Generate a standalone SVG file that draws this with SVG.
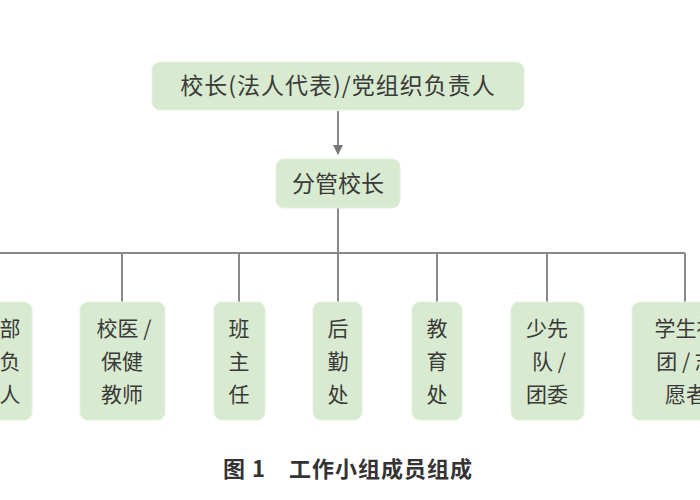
<svg xmlns="http://www.w3.org/2000/svg" width="700" height="500" viewBox="0 0 700 500">
<style>
.b{fill:#d8eacf;stroke:#e4f0de;stroke-width:1}
.t{font-family:"Noto Sans CJK SC","Liberation Serif",serif;font-size:21px;fill:#3a3a3a;text-anchor:middle}
.c{fill:none;stroke:#8a8a8a;stroke-width:2}
</style>
<defs><marker id="a" viewBox="0 0 10 10" refX="9" refY="5" markerWidth="5" markerHeight="5" orient="auto"><path d="M0,0L10,5L0,10z" fill="#777"/></marker></defs>
<rect width="700" height="500" fill="#fff"/>
<g id="connectors">
<path class="c" d="M338,111V154" marker-end="url(#a)"/>
<path class="c" d="M338,208V253M0,253H685M122,253V302M239,253V302M338,253V302M437,253V302M547,253V302M685,253V302"/>
</g>
<g id="n1"><rect class="b" x="152" y="62" width="372" height="48" rx="8"/><text class="t" x="338" y="94" style="font-size:23px;letter-spacing:1px">校长(法人代表)/党组织负责人</text></g>
<g id="n2"><rect class="b" x="276" y="159" width="124" height="49" rx="8"/><text class="t" x="338" y="192" style="font-size:23px">分管校长</text></g>
<g id="n3"><rect class="b" x="-40" y="302" width="72" height="118" rx="8"/><text class="t" x="10" y="336">部</text><text class="t" x="10" y="369">负</text><text class="t" x="10" y="402">人</text></g>
<g id="n4"><rect class="b" x="80" y="302" width="85" height="118" rx="8"/><text class="t" x="124" y="336">校医 /</text><text class="t" x="122" y="369">保健</text><text class="t" x="122" y="402">教师</text></g>
<g id="n5"><rect class="b" x="214" y="302" width="51" height="118" rx="8"/><text class="t" x="239" y="336">班</text><text class="t" x="239" y="369">主</text><text class="t" x="239" y="402">任</text></g>
<g id="n6"><rect class="b" x="313" y="302" width="49" height="118" rx="8"/><text class="t" x="338" y="336">后</text><text class="t" x="338" y="369">勤</text><text class="t" x="338" y="402">处</text></g>
<g id="n7"><rect class="b" x="412" y="302" width="50" height="118" rx="8"/><text class="t" x="437" y="336">教</text><text class="t" x="437" y="369">育</text><text class="t" x="437" y="402">处</text></g>
<g id="n8"><rect class="b" x="511" y="302" width="73" height="118" rx="8"/><text class="t" x="547" y="336">少先</text><text class="t" x="549" y="369">队 /</text><text class="t" x="547" y="402">团委</text></g>
<g id="n9"><rect class="b" x="632" y="302" width="110" height="118" rx="8"/><text class="t" x="686" y="336">学生社</text><text class="t" x="686" y="369">团 / 志</text><text class="t" x="686" y="402">愿者</text></g>
<text x="348" y="477" font-family="Noto Sans CJK SC,sans-serif" font-size="22" font-weight="bold" fill="#333" text-anchor="middle" letter-spacing="1">图 1　工作小组成员组成</text>
</svg>
